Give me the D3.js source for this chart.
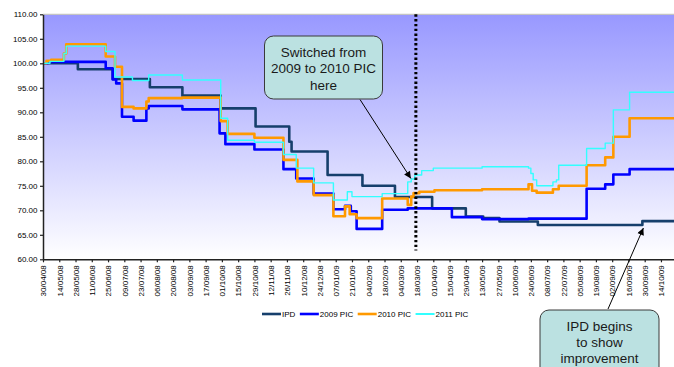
<!DOCTYPE html>
<html>
<head>
<meta charset="utf-8">
<script src="https://cdn.jsdelivr.net/npm/d3@7"></script>
<style>
  html, body { margin: 0; padding: 0; background: #ffffff; }
  svg { display: block; font-family: "Liberation Sans", Arial, sans-serif; }
</style>
</head>
<body>
<svg id="chart" width="674" height="367"></svg>
<script>
// Axis tick labels (fortnightly)
const tickLabels = [
  "30/04/08","14/05/08","28/05/08","11/06/08","25/06/08","09/07/08","23/07/08","06/08/08",
  "20/08/08","03/09/08","17/09/08","01/10/08","15/10/08","29/10/08","12/11/08","26/11/08",
  "10/12/08","24/12/08","07/01/09","21/01/09","04/02/09","18/02/09","04/03/09","18/03/09",
  "01/04/09","15/04/09","29/04/09","13/05/09","27/05/09","10/06/09","24/06/09","08/07/09",
  "22/07/09","05/08/09","19/08/09","02/09/09","16/09/09","30/09/09","14/10/09","28/10/09"
];
const yTicks = [60, 65, 70, 75, 80, 85, 90, 95, 100, 105, 110];

// Step series: date each level starts, and the level
const ipdDates = ["2008-04-30","2008-05-30","2008-06-29","2008-07-31","2008-08-28","2008-09-30",
  "2008-10-30","2008-11-28","2008-11-30","2008-12-31","2009-01-30","2009-02-27","2009-03-31",
  "2009-04-29","2009-05-14","2009-05-28","2009-06-30","2009-09-28","2009-11-08"];
const ipdValues = [100.0, 98.8, 96.8, 95.1, 93.4, 90.8, 87.1, 84.0, 82.0, 77.2, 75.0, 72.7, 70.4,
  68.7, 68.4, 67.7, 67.0, 67.8, 67.8];

const pic2009Dates = ["2008-04-30","2008-05-04","2008-06-23","2008-06-29","2008-07-02","2008-07-07",
  "2008-07-17","2008-07-28","2008-07-30","2008-08-28","2008-09-29","2008-10-04","2008-10-29",
  "2008-11-23","2008-12-04","2008-12-19","2009-01-05","2009-01-15","2009-01-20","2009-01-25",
  "2009-02-16","2009-03-10","2009-04-17","2009-05-13","2009-06-22","2009-08-11","2009-08-27",
  "2009-09-03","2009-09-17","2009-11-08"];
const pic2009Values = [100.0, 100.3, 99.0, 96.7, 95.9, 89.1, 88.3, 90.8, 91.3, 90.6, 85.7, 83.5, 82.4,
  78.4, 76.5, 73.4, 70.2, 70.9, 69.8, 66.2, 70.1, 70.4, 68.6, 68.2, 68.3, 74.4, 75.3, 77.3, 78.4, 78.4];

const pic2010Dates = ["2008-04-30","2008-05-03","2008-05-07","2008-05-18","2008-05-20","2008-06-23",
  "2008-07-01","2008-07-07","2008-07-17","2008-07-28","2008-07-30","2008-08-28","2008-09-30",
  "2008-10-06","2008-10-29","2008-11-23","2008-12-05","2008-12-19","2009-01-05","2009-01-15",
  "2009-01-19","2009-01-25","2009-02-16","2009-03-10","2009-03-13","2009-03-15","2009-03-20",
  "2009-04-02","2009-05-13","2009-06-22","2009-06-25","2009-06-29","2009-07-13","2009-07-18",
  "2009-08-11","2009-08-27","2009-09-03","2009-09-17","2009-11-08"];
const pic2010Values = [100.0, 100.5, 100.7, 102.0, 103.9, 101.4, 99.3, 91.1, 90.8, 92.2, 92.9, 93.0, 88.2,
  85.6, 84.8, 80.3, 75.9, 73.1, 68.8, 70.8, 69.2, 68.4, 72.4, 71.1, 72.8, 73.5, 73.8,
  74.1, 74.3, 75.3, 74.0, 73.6, 74.3, 75.0, 79.2, 80.8, 85.0, 88.8, 88.8];

const pic2011Dates = ["2008-04-30","2008-05-06","2008-05-18","2008-05-20","2008-06-23","2008-07-01",
  "2008-07-16","2008-07-30","2008-08-28","2008-09-30","2008-10-06","2008-10-29","2008-11-23",
  "2008-12-04","2008-12-19","2009-01-05","2009-01-17","2009-01-21","2009-02-16","2009-03-10",
  "2009-03-13","2009-03-16","2009-03-22","2009-04-01","2009-05-13","2009-06-22","2009-06-24",
  "2009-06-26","2009-06-29","2009-07-13","2009-07-16","2009-07-18","2009-08-11","2009-08-27",
  "2009-09-03","2009-09-17","2009-11-08"];
const pic2011Values = [100.0, 100.4, 102.0, 103.5, 102.4, 97.2, 96.5, 97.6, 96.6, 88.8, 84.3, 83.9, 81.4,
  78.6, 75.6, 72.1, 73.8, 72.8, 73.4, 75.8, 76.4, 77.2, 78.1, 78.6, 78.9, 78.6, 77.5,
  76.2, 75.0, 75.8, 76.2, 79.2, 82.6, 83.7, 90.5, 94.1, 94.1];

const seriesNames = ["IPD", "2009 PIC", "2010 PIC", "2011 PIC"];
const seriesColors = ["#163f6c", "#0000ff", "#ff9900", "#33ffff"];
const seriesWidths = [2.6, 2.6, 2.6, 1.4];

const switchDate = "2009-03-17";
const improvementDate = "2009-09-28";
const improvementValue = 67.0;

// ---- layout ----
const svg = d3.select("#chart");
const W = 674, H = 367;
const plot = { left: 43, top: 14.3, bottom: 259.3, right: 690 };

const parseIso = d3.utcParse("%Y-%m-%d");
const parseTick = d3.utcParse("%d/%m/%y");

const x = d3.scaleUtc()
  .domain([parseIso("2008-04-30"), parseIso("2009-11-08")])
  .range([plot.left, plot.right]);
const y = d3.scaleLinear().domain([60, 110]).range([plot.bottom, plot.top]);

const series = [
  { dates: ipdDates, values: ipdValues },
  { dates: pic2009Dates, values: pic2009Values },
  { dates: pic2010Dates, values: pic2010Values },
  { dates: pic2011Dates, values: pic2011Values }
].map((s, i) => ({
  name: seriesNames[i], color: seriesColors[i], width: seriesWidths[i],
  points: s.dates.map((d, j) => ({ date: parseIso(d), value: s.values[j] }))
}));

const defs = svg.append("defs");
const grad = defs.append("linearGradient")
  .attr("id", "bg").attr("x1", 0).attr("y1", 0).attr("x2", 0).attr("y2", 1);
grad.append("stop").attr("offset", "0%").attr("stop-color", "#9898ff");
grad.append("stop").attr("offset", "100%").attr("stop-color", "#ffffff");

defs.append("clipPath").attr("id", "plotClip")
  .append("rect").attr("x", plot.left).attr("y", plot.top - 2)
  .attr("width", plot.right - plot.left).attr("height", plot.bottom - plot.top + 2);

const marker = defs.append("marker")
  .attr("id", "arrow").attr("viewBox", "0 0 10 10")
  .attr("refX", 10).attr("refY", 5)
  .attr("markerWidth", 8).attr("markerHeight", 7)
  .attr("markerUnits", "userSpaceOnUse")
  .attr("orient", "auto");
marker.append("path").attr("d", "M0,0 L10,5 L0,10 z").attr("fill", "#000");

// plot background
svg.append("rect")
  .attr("x", plot.left).attr("y", plot.top)
  .attr("width", plot.right - plot.left).attr("height", plot.bottom - plot.top)
  .attr("fill", "url(#bg)");
svg.append("line")
  .attr("x1", plot.left).attr("x2", plot.right)
  .attr("y1", plot.top).attr("y2", plot.top)
  .attr("stroke", "#c4c4c4").attr("stroke-width", 1.2);

// series lines
const line = d3.line()
  .x(d => x(d.date)).y(d => y(d.value))
  .curve(d3.curveStepAfter);

const gLines = svg.append("g").attr("clip-path", "url(#plotClip)");
series.forEach(s => {
  gLines.append("path")
    .datum(s.points)
    .attr("fill", "none")
    .attr("stroke", s.color)
    .attr("stroke-width", s.width)
    .attr("stroke-linejoin", "round")
    .attr("d", line);
});

// switch marker line
svg.append("line")
  .attr("x1", x(parseIso(switchDate))).attr("x2", x(parseIso(switchDate)))
  .attr("y1", y(110)).attr("y2", y(61.8))
  .attr("stroke", "#000").attr("stroke-width", 3)
  .attr("stroke-dasharray", "2.4,2.4");

// y axis
const yAxis = d3.axisLeft(y).tickValues(yTicks).tickFormat(d3.format(".2f"))
  .tickSize(3).tickSizeOuter(0).tickPadding(2.5);
const gy = svg.append("g").attr("transform", `translate(${plot.left},0)`).call(yAxis);
gy.select(".domain").attr("stroke", "#222").attr("stroke-width", 1.5);
gy.selectAll(".tick line").attr("stroke", "#222").attr("stroke-width", 1.2);
gy.selectAll(".tick text").attr("font-size", 8).attr("fill", "#000")
  .attr("font-family", "Liberation Sans, Arial, sans-serif");

// x axis
const tickDates = tickLabels.map(parseTick);
const xAxis = d3.axisBottom(x).tickValues(tickDates)
  .tickFormat(d3.utcFormat("%d/%m/%y")).tickSize(3).tickSizeOuter(0);
const gx = svg.append("g").attr("transform", `translate(0,${plot.bottom})`).call(xAxis);
gx.select(".domain").attr("stroke", "#222").attr("stroke-width", 1.5);
gx.selectAll(".tick line").attr("stroke", "#222").attr("stroke-width", 1.2);
gx.selectAll(".tick text")
  .attr("font-size", 8).attr("fill", "#000")
  .attr("font-family", "Liberation Sans, Arial, sans-serif")
  .attr("text-anchor", "end")
  .attr("transform", "translate(0,6) rotate(-90)")
  .attr("x", 0).attr("y", 0).attr("dy", "0.35em");

// legend
const legend = svg.append("g").attr("transform", "translate(0,314)");
let lx = 262;
series.forEach(s => {
  legend.append("line")
    .attr("x1", lx).attr("x2", lx + 19)
    .attr("y1", 0).attr("y2", 0)
    .attr("stroke", s.color).attr("stroke-width", s.width === 1.4 ? 2 : 2.6);
  const t = legend.append("text")
    .attr("x", lx + 20).attr("y", 0).attr("dy", "0.35em")
    .attr("font-size", 8).attr("fill", "#000")
    .text(s.name);
  lx += 20 + t.node().getComputedTextLength() + 4.5;
});

// callouts
function callout(bx, by, bw, bh, lines, lineCenters) {
  const g = svg.append("g");
  g.append("rect")
    .attr("x", bx).attr("y", by).attr("width", bw).attr("height", bh)
    .attr("rx", 9).attr("ry", 9)
    .attr("fill", "#bbe1e1").attr("stroke", "#3a3a3a").attr("stroke-width", 1);
  lines.forEach((txt, i) => {
    g.append("text")
      .attr("x", bx + bw / 2).attr("y", lineCenters[i])
      .attr("dy", "0.35em")
      .attr("text-anchor", "middle")
      .attr("font-size", 13.5).attr("fill", "#1a1a1a")
      .text(txt);
  });
}

svg.append("line")
  .attr("x1", 360).attr("y1", 99.5)
  .attr("x2", x(parseIso(switchDate)) - 5).attr("y2", y(76.5))
  .attr("stroke", "#000").attr("stroke-width", 1)
  .attr("marker-end", "url(#arrow)");
callout(264.5, 36, 118, 63, ["Switched from", "2009 to 2010 PIC", "here"], [52, 68.5, 85]);

svg.append("line")
  .attr("x1", 608).attr("y1", 309)
  .attr("x2", x(parseIso(improvementDate)) + 1).attr("y2", y(improvementValue) + 3)
  .attr("stroke", "#000").attr("stroke-width", 1)
  .attr("marker-end", "url(#arrow)");
callout(540, 310, 119, 70, ["IPD begins", "to show", "improvement"], [326, 342, 358]);
</script>
</body>
</html>
